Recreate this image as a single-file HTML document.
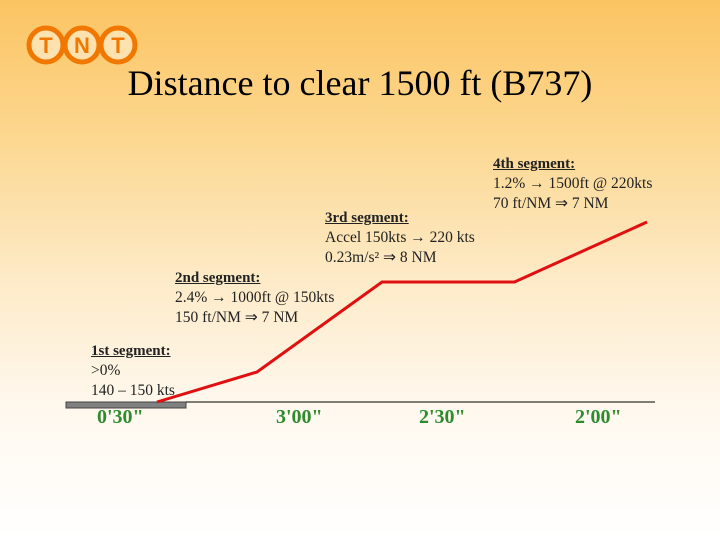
<!DOCTYPE html>
<html><head><meta charset="utf-8"><style>
body{margin:0;width:720px;height:540px;overflow:hidden;font-family:"Liberation Serif",serif;}
#bg{position:absolute;left:0;top:0;width:720px;height:540px;background:linear-gradient(to bottom,#fbc462 0%,#fcd78f 25%,#fde9c4 50%,#fff8ee 75%,#ffffff 100%);}
.t{position:absolute;font-size:15.5px;line-height:20px;color:#222;white-space:nowrap}
.u{text-decoration:underline;font-weight:bold;font-size:15px}
.g{position:absolute;color:#2e8b2e;font-weight:bold;font-size:20px;top:406px}
</style></head><body>
<div id="bg"></div>
<svg style="position:absolute;left:0;top:0" width="720" height="540">
 <g font-family="Liberation Sans" font-weight="bold" font-size="22" fill="#f07800" text-anchor="middle">
  <circle cx="46" cy="45" r="17" fill="#fde2b0" stroke="#f07800" stroke-width="5"/>
  <circle cx="82" cy="45" r="17" fill="#fde2b0" stroke="#f07800" stroke-width="5"/>
  <circle cx="118" cy="45" r="17" fill="#fde2b0" stroke="#f07800" stroke-width="5"/>
  <text x="46" y="53">T</text><text x="82" y="53">N</text><text x="118" y="53">T</text>
 </g>
 <text x="360" y="95" text-anchor="middle" font-family="Liberation Serif" font-size="36" fill="#000">Distance to clear 1500 ft (B737)</text>
 <rect x="66" y="402" width="120" height="6" fill="#808080" stroke="#444" stroke-width="1"/>
 <line x1="186" y1="402" x2="655" y2="402" stroke="#000" stroke-width="1"/>
 <g id="plot"></g>
</svg>
<div class="t" style="left:91px;top:341px"><span class="u">1st segment:</span><br>&gt;0%<br>140 – 150 kts</div>
<div class="t" style="left:175px;top:268px"><span class="u">2nd segment:</span><br>2.4% → 1000ft @ 150kts<br>150 ft/NM ⇒ 7 NM</div>
<div class="t" style="left:325px;top:208px"><span class="u">3rd segment:</span><br>Accel 150kts → 220 kts<br>0.23m/s² ⇒ 8 NM</div>
<div class="t" style="left:493px;top:154px"><span class="u">4th segment:</span><br>1.2% → 1500ft @ 220kts<br>70 ft/NM ⇒ 7 NM</div>
<div class="g" style="left:97px">0'30"</div>
<div class="g" style="left:276px">3'00"</div>
<div class="g" style="left:419px">2'30"</div>
<div class="g" style="left:575px">2'00"</div>
<script>
const distances=[0,4,9,14.3,19.6];
const altitudes=[0,400,1600,1600,2400];
function sx(d){return 157+d*25;}
function sy(a){return 402-a*0.075;}
const p=document.createElementNS("http://www.w3.org/2000/svg","polyline");


p.setAttribute("points",distances.map((d,i)=>sx(d)+","+sy(altitudes[i])).join(" "));
p.setAttribute("fill","none");p.setAttribute("stroke","#e01010");p.setAttribute("stroke-width","3");
document.getElementById("plot").appendChild(p);
</script>
</body></html>
